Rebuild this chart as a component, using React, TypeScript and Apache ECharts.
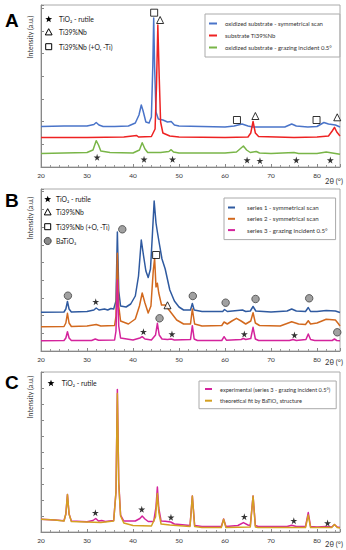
import React, { useEffect, useRef } from "react";
import * as echarts from "echarts";

// ---------- data (2θ in degrees, intensity in a.u.) ----------
const X_MIN = 20;
const X_MAX = 85;
const X_STEP = 10;

// Panel A
const A_NAMES = [
  "oxidized substrate - symmetrical scan",
  "substrate Ti39%Nb",
  "oxidized substrate - grazing incident 0.5°",
];
const A_OX_SYM: number[][] = [
  [20, 40.5], [25, 41], [30, 41], [31.5, 42.5], [32, 44.5], [32.6, 42], [33.5, 40.5], [36, 40.5],
  [39, 41], [40.5, 44], [41.3, 52], [41.8, 62], [42.2, 56], [42.8, 45], [43.5, 44], [44.0, 50],
  [44.3, 100], [44.5, 149], [44.7, 100], [45.0, 55], [45.5, 48], [46.5, 47], [47.5, 45],
  [48.3, 45.5], [49, 42], [50, 41], [55, 40.5], [60, 40], [62, 41], [63.7, 43], [65, 41],
  [66, 40], [70, 40], [73, 40], [74.5, 43], [75.5, 41], [78, 40], [80, 40.5], [81.5, 44.5],
  [82.5, 43], [84, 42], [85, 40],
];
const A_SUBSTRATE: number[][] = [
  [20, 29.5], [30, 29.5], [38, 30], [40.8, 31.5], [41.2, 30], [44, 30.5], [44.8, 38], [45.1, 80],
  [45.4, 142], [45.7, 90], [46, 45], [46.5, 34], [48, 31], [50, 30], [60, 29.5], [65, 30],
  [65.6, 34], [66.1, 45.5], [66.6, 34], [67.3, 30.5], [75, 29.5], [80, 30], [82.5, 31],
  [83.3, 36], [83.8, 39.7], [84.3, 35], [85, 31],
];
const A_OX_GRAZ: number[][] = [
  [20, 13.5], [25, 14], [30, 14.5], [31.3, 17], [32, 26.3], [32.5, 22], [33, 16], [35, 14.5],
  [40, 14], [41.4, 17], [42, 24.3], [42.6, 18], [43.2, 14.5], [46, 14.5], [47.8, 15.5],
  [48.3, 17.3], [48.8, 15], [50, 14], [55, 14], [60, 14], [62.5, 15], [63.5, 19], [64, 21],
  [64.7, 17], [65.5, 14.5], [66.8, 15.5], [67.5, 14], [70, 13.5], [75, 14.5], [76, 13.5],
  [80, 13.5], [82, 15], [84, 13.5], [85, 12.7],
];
const A_STARS: number[][] = [[32.2, 9.7], [42.4, 7.7], [48.6, 7.7], [64.8, 7], [67.6, 6.3], [75.5, 7], [82.9, 7]];
const A_SQUARES: number[][] = [[44.6, 154.3], [62.6, 47], [79.9, 47]];
const A_TRIANGLES: number[][] = [[45.9, 147], [66.6, 51], [84.4, 49.7]];

// Panel B
const B_NAMES = [
  "series 1 - symmetrical scan",
  "series 2 - symmetrical scan",
  "series 3 - grazing incident 0.5°",
];
const B_S1: number[][] = [
  [20, 38.7], [25, 39], [25.4, 42], [25.75, 49.5], [26.1, 42], [26.6, 39], [30, 39.5], [31.5, 41],
  [32, 43], [32.6, 41], [33.8, 42], [34.5, 41], [35.2, 42.5], [35.8, 42], [36.3, 50], [36.6, 119],
  [36.9, 60], [37.3, 45], [38.5, 44], [39.5, 47], [40.5, 55], [41.2, 75], [41.8, 111], [42.3, 95],
  [42.8, 80], [43.3, 73.5], [43.8, 82], [44.2, 115], [44.6, 150], [45.0, 128], [45.3, 119],
  [45.7, 108], [46.3, 92], [47, 82], [48, 61], [49, 50], [50, 44], [51, 41], [52.5, 41],
  [52.9, 47.5], [53.3, 41], [55, 39.5], [59.5, 39.5], [59.9, 41.5], [60.5, 39.5], [63.8, 41],
  [64.5, 39.5], [65.5, 40], [66.1, 44.5], [66.7, 40], [70, 39], [73.5, 40], [74.5, 42],
  [75.5, 40], [77.5, 39.5], [78.1, 43.5], [78.6, 39.5], [80, 39.5], [82, 40.5], [84, 40], [85, 38.5],
];
const B_S2: number[][] = [
  [20, 24.3], [25, 24.5], [25.4, 28], [25.75, 37.7], [26.1, 28], [26.6, 24.5], [30, 25], [32, 26.5],
  [33, 25], [36, 25.5], [36.3, 35], [36.6, 97.7], [36.9, 45], [37.3, 30], [39, 27], [40.5, 32],
  [41.4, 45], [42, 58], [42.6, 48], [43.3, 38], [43.9, 45], [44.4, 80], [44.7, 92.7], [45.0, 64],
  [45.3, 67.7], [45.6, 58], [46.2, 46], [47.0, 46], [48, 40], [49.5, 31], [51, 27], [52.5, 27],
  [52.9, 42], [53.4, 27], [55, 25], [59.3, 25.5], [59.8, 29], [60.5, 27], [61.5, 30], [62.5, 32.7],
  [63.5, 30], [64.5, 27], [65.6, 30], [66.1, 38.3], [66.6, 28], [67.5, 25.5], [72, 25],
  [74.5, 29.3], [76, 27], [77.5, 26.5], [78.1, 30.3], [78.6, 27], [80, 28], [82, 31.7], [84, 31],
  [84.7, 27], [85, 25],
];
const B_S3: number[][] = [
  [20, 10.3], [25, 10.5], [25.4, 13], [25.75, 19.3], [26.1, 13], [26.6, 10.5], [31, 10.5],
  [31.8, 12], [32.5, 10.8], [36, 11], [36.3, 20], [36.6, 71], [36.9, 25], [37.3, 13], [40, 11],
  [41.5, 13], [42, 14.3], [42.6, 12], [44, 11], [44.9, 16], [45.3, 27.7], [45.7, 16], [46.3, 12],
  [47.5, 11.5], [48.3, 12], [49, 11], [52.5, 11.5], [52.9, 25.3], [53.3, 12], [54, 10.5],
  [59.3, 10.5], [59.8, 14.3], [60.3, 10.8], [63.5, 11.5], [64, 12.5], [64.5, 11.5], [65.6, 12.5],
  [66.1, 23.7], [66.6, 12], [67.3, 10.5], [74, 10.5], [74.8, 11.5], [75.5, 10.5], [77.6, 11.5],
  [78.1, 17], [78.6, 11.5], [79.5, 10.5], [83.3, 10.5], [83.8, 12], [84.3, 10.5], [85, 10.3],
];
const B_CIRCLES: number[][] = [[25.85, 55.3], [37.67, 121.7], [45.77, 32.7], [53.0, 55], [60.14, 48.3], [66.64, 52], [78.3, 52.7], [84.4, 18.7]];
const B_STARS: number[][] = [[31.9, 49.3], [42.27, 19.3], [48.47, 17], [64.2, 17], [75.1, 16]];
const B_SQUARES: number[][] = [[45.03, 96]];
const B_TRIANGLES: number[][] = [[47.5, 45.7]];

// Panel C
const C_NAMES = [
  "experimental (series 3 - grazing incident 0.5°)",
  "theoretical fit by BaTiO₃ structure",
];
const C_EXP: number[][] = [
  [20, 12.7], [23, 12], [25, 11.3], [25.4, 18], [25.75, 37.4], [26.1, 18], [26.6, 11], [30, 10.3],
  [31.3, 11.5], [31.9, 13.5], [32.5, 11], [33.2, 11.5], [34, 10.5], [35.8, 11.5], [36.3, 40],
  [36.6, 142.4], [36.9, 50], [37.3, 17], [38, 11], [40.5, 11], [41.5, 13.5], [42, 16], [42.6, 13],
  [43.3, 10.5], [44.5, 10.5], [45.0, 25], [45.3, 45], [45.6, 24], [46.1, 11], [47, 10.7],
  [48.2, 10], [49, 8], [52.4, 6.5], [52.9, 36], [53.4, 6.5], [55, 5.5], [59.2, 5.5], [59.7, 13],
  [60.2, 5.5], [62.8, 6.5], [64, 9.4], [65, 7], [65.5, 6.5], [66.1, 36], [66.6, 6.5], [67.2, 5.5],
  [73.5, 5.5], [74.5, 6.7], [75.5, 5.5], [77.5, 5.5], [78.1, 19.4], [78.6, 5.5], [80, 5], [82, 5.5],
  [83.2, 5], [83.8, 7.4], [84.4, 5], [85, 4.5],
];
const C_FIT: number[][] = [
  [20, 12.7], [23, 12], [25, 11], [25.4, 18], [25.75, 37.4], [26.1, 18], [26.6, 10.5], [30, 10],
  [33, 9.5], [35.8, 11], [36.3, 40], [36.6, 138.4], [36.9, 48], [37.3, 16], [38, 9], [40, 6.5],
  [44, 6], [44.9, 15], [45.3, 38.4], [45.6, 20], [46.1, 8], [48, 7], [52.4, 5.5], [52.9, 36],
  [53.4, 5.5], [55, 4.5], [59.2, 4.5], [59.7, 12.7], [60.2, 4.5], [65.5, 5], [66.1, 36], [66.6, 5],
  [67.2, 4.5], [77.5, 4.5], [78.1, 17], [78.6, 4.5], [83.2, 4.5], [83.8, 7.4], [84.4, 4.5], [85, 4],
];
const C_STARS: number[][] = [[31.82, 19.3], [41.9, 22.7], [48.25, 14.7], [64.2, 15.3], [74.96, 11.3], [82.3, 9]];

const Y_MAX = [162, 162, 160];
const Y_STEP = [22.7, 17.7, 16];

const MARK_LABELS_AB = ["TiO₂ - rutile", "Ti39%Nb", "Ti39%Nb (+O, -Ti)", "BaTiO₃"];

// ---------- styling ----------
const FONT = "Lato, 'Open Sans', sans-serif";
const STAR_PATH =
  "path://M50,0 L61,35 L98,35 L68,57 L79,91 L50,70 L21,91 L32,57 L2,35 L39,35 Z";

function starPts(cx: number, cy: number, r: number) {
  const pts: number[][] = [];
  for (let i = 0; i < 10; i++) {
    const a = -Math.PI / 2 + (i * Math.PI) / 5;
    const rr = i % 2 === 0 ? r : r * 0.42;
    pts.push([cx + rr * Math.cos(a), cy + rr * Math.sin(a)]);
  }
  return pts;
}

const GRIDS = [
  { left: 41, top: 5, width: 299, height: 162 },
  { left: 41, top: 189, width: 299, height: 162 },
  { left: 41, top: 372, width: 299, height: 160 },
];

function lineSeries(name: string, data: number[][], idx: number, color: string, z = 2) {
  return {
    name,
    type: "line",
    xAxisIndex: idx,
    yAxisIndex: idx,
    data,
    showSymbol: false,
    symbol: "none",
    color,
    lineStyle: { width: 1.5, color, join: "round" },
    z,
  };
}

function markSeries(kind: string, data: number[][], idx: number) {
  const base: any = {
    name: kind + idx,
    type: "scatter",
    xAxisIndex: idx,
    yAxisIndex: idx,
    data,
    z: 5,
  };
  if (kind === "star") {
    base.symbol = STAR_PATH;
    base.symbolSize = 7;
    base.itemStyle = { color: "#000" };
  } else if (kind === "tri") {
    base.symbol = "triangle";
    base.symbolSize = 7;
    base.itemStyle = { color: "#fff", borderColor: "#000", borderWidth: 1 };
  } else if (kind === "sq") {
    base.symbol = "rect";
    base.symbolSize = 7;
    base.itemStyle = { color: "#fff", borderColor: "#000", borderWidth: 1 };
  } else {
    base.symbol = "circle";
    base.symbolSize = 7.5;
    base.itemStyle = { color: "#8a8a8a", borderColor: "#444", borderWidth: 1 };
  }
  return base;
}

function markerIcon(kind: string, cx: number, cy: number) {
  if (kind === "star")
    return { type: "polygon", shape: { points: starPts(cx, cy, 3.6) }, style: { fill: "#000" } };
  if (kind === "tri")
    return {
      type: "polygon",
      shape: { points: [[cx, cy - 3.6], [cx + 3.4, cy + 2.6], [cx - 3.4, cy + 2.6]] },
      style: { fill: "#fff", stroke: "#000", lineWidth: 1 },
    };
  if (kind === "sq")
    return {
      type: "rect",
      shape: { x: cx - 3, y: cy - 3, width: 6, height: 6 },
      style: { fill: "#fff", stroke: "#000", lineWidth: 1 },
    };
  return { type: "circle", shape: { cx, cy, r: 3.5 }, style: { fill: "#8a8a8a", stroke: "#444", lineWidth: 1 } };
}

function txt(text: string, x: number, y: number, size: number, extra: any = {}) {
  return {
    type: "text",
    x,
    y,
    style: {
      text,
      fill: "#222",
      font: `${size}px ${FONT}`,
      textAlign: "left",
      textVerticalAlign: "middle",
      ...extra,
    },
  };
}

export default function App() {
  const ref = useRef<HTMLDivElement>(null);
  useEffect(() => {
    if (!ref.current) return;
    const chart = echarts.init(ref.current, undefined, { renderer: "svg" });

    const xAxes = [0, 1, 2].map((i) => ({
      type: "value",
      gridIndex: i,
      min: X_MIN,
      max: X_MAX,
      interval: X_STEP,
      axisLine: { show: true, onZero: false, lineStyle: { color: "#888", width: 1 } },
      axisTick: { show: true, inside: true, length: 3, lineStyle: { color: "#888" } },
      minorTick: { show: true, splitNumber: 5, length: 2, lineStyle: { color: "#999" } },
      axisLabel: { fontSize: 6.5, color: "#333", margin: 5, showMaxLabel: false, fontFamily: FONT },
      splitLine: { show: false },
    }));
    const yAxes = [0, 1, 2].map((i) => ({
      type: "value",
      gridIndex: i,
      min: 0,
      max: Y_MAX[i],
      interval: Y_STEP[i],
      axisLine: { show: true, lineStyle: { color: "#888", width: 1 } },
      axisTick: { show: true, inside: true, length: 3, lineStyle: { color: "#888" } },
      axisLabel: { show: false, showMaxLabel: false },
      splitLine: { show: false },
    }));

    const textBase = { color: "#333", fontFamily: FONT, lineHeight: 7, padding: [0, 0, 0, 3] };
    const legendBase = {
      orient: "vertical",
      icon: "rect",
      itemWidth: 8,
      itemHeight: 2,
      selectedMode: false,
      borderColor: "#aaa",
      borderWidth: 1,
      backgroundColor: "#fff",
    };

    const graphic: any[] = [
      txt("A", 5, 20, 19, { font: "bold 19px 'Liberation Sans', Arial, sans-serif", fill: "#000" }),
      txt("B", 5, 200, 19, { font: "bold 19px 'Liberation Sans', Arial, sans-serif", fill: "#000" }),
      txt("C", 5, 382, 19, { font: "bold 19px 'Liberation Sans', Arial, sans-serif", fill: "#000" }),
    ];
    [37, 218, 397].forEach((cy) => {
      graphic.push({
        type: "text",
        x: 30,
        y: cy,
        rotation: Math.PI / 2,
        style: {
          text: "Intensity (a.u.)",
          fill: "#333",
          font: `7px ${FONT}`,
          textAlign: "center",
          textVerticalAlign: "middle",
        },
      });
    });
    [181, 362, 544].forEach((y) => {
      graphic.push(txt("2θ (°)", 334, y, 7.5, { textAlign: "center", fill: "#333" }));
    });
    // marker key, panel A
    const kindsA = ["star", "tri", "sq"];
    [19.3, 32.3, 46.7].forEach((y, k) => {
      graphic.push(markerIcon(kindsA[k], 48.7, y));
      graphic.push(txt(MARK_LABELS_AB[k], 59, y, 6.8));
    });
    // marker key, panel B
    const kindsB = ["star", "tri", "sq", "circ"];
    [199.3, 212.3, 226.7, 241].forEach((y, k) => {
      graphic.push(markerIcon(kindsB[k], 47.7, y));
      graphic.push(txt(MARK_LABELS_AB[k], 56, y, 6.8));
    });
    // marker key, panel C
    graphic.push(markerIcon("star", 51, 383.3));
    graphic.push(txt(MARK_LABELS_AB[0], 61.7, 383.3, 6.8));

    chart.setOption({
      animation: false,
      backgroundColor: "#fff",
      grid: GRIDS.map((g) => ({ ...g, show: true, borderColor: "#aaa", borderWidth: 1 })),
      xAxis: xAxes,
      yAxis: yAxes,
      legend: [
        { ...legendBase, data: A_NAMES, left: 205, top: 14, padding: [6, 8, 6, 4], itemGap: 5,
          textStyle: { ...textBase, fontSize: 6 } },
        { ...legendBase, itemWidth: 7, data: B_NAMES, left: 224, top: 198, padding: [6, 8, 6, 4], itemGap: 4.3,
          textStyle: { ...textBase, fontSize: 6.1, padding: [0, 0, 0, 7] } },
        { ...legendBase, itemWidth: 7, data: C_NAMES, left: 199, top: 381, padding: [4.5, 6, 4.5, 6], itemGap: 4.7,
          textStyle: { ...textBase, fontSize: 5.6 } },
      ],
      series: [
        lineSeries(A_NAMES[0], A_OX_SYM, 0, "#4a74c9"),
        lineSeries(A_NAMES[1], A_SUBSTRATE, 0, "#ee2222"),
        lineSeries(A_NAMES[2], A_OX_GRAZ, 0, "#79b548"),
        markSeries("star", A_STARS, 0),
        markSeries("sq", A_SQUARES, 0),
        markSeries("tri", A_TRIANGLES, 0),
        lineSeries(B_NAMES[0], B_S1, 1, "#2f5aa0"),
        lineSeries(B_NAMES[1], B_S2, 1, "#d2691e"),
        lineSeries(B_NAMES[2], B_S3, 1, "#d4239c"),
        markSeries("circ", B_CIRCLES, 1),
        markSeries("star", B_STARS, 1),
        markSeries("sq", B_SQUARES, 1),
        markSeries("tri", B_TRIANGLES, 1),
        lineSeries(C_NAMES[0], C_EXP, 2, "#d4239c", 2),
        lineSeries(C_NAMES[1], C_FIT, 2, "#d4a020", 3),
        markSeries("star", C_STARS, 2),
      ],
      graphic,
    });
    return () => chart.dispose();
  }, []);
  return <div ref={ref} style={{ width: 346, height: 550, position: "absolute", left: 0, top: 0 }} />;
}
